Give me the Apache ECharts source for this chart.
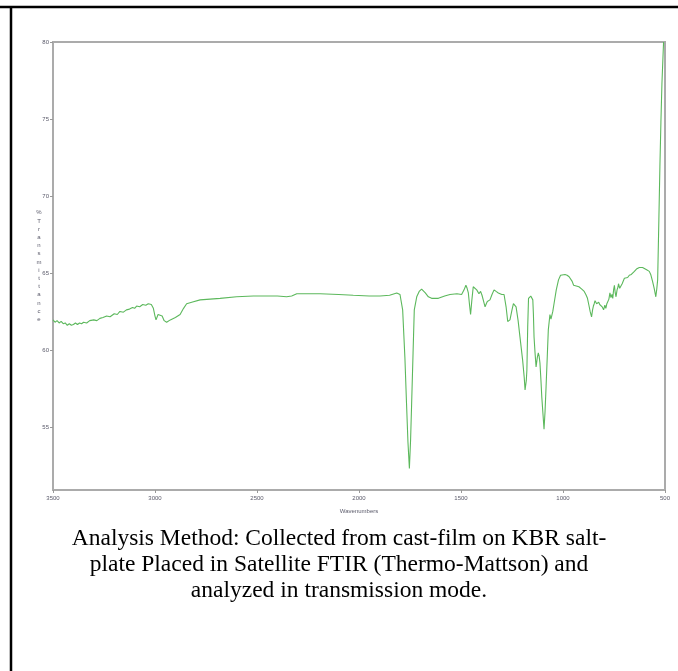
<!DOCTYPE html>
<html>
<head>
<meta charset="utf-8">
<script src="https://cdn.jsdelivr.net/npm/echarts@6/dist/echarts.min.js"></script>
<style>
html,body{margin:0;padding:0;background:#fff;}
#chart{width:678px;height:671px;}
</style>
</head>
<body>
<div id="chart"></div>
<script>
const wavenumbers = [3500,3490,3480,3470,3460,3450,3440,3430,3420,3410,3400,3390,3380,3370,3360,3350,3335,3320,3300,3285,3270,3255,3237,3220,3200,3185,3172,3155,3140,3125,3110,3100,3090,3075,3060,3045,3033,3018,3008,3000,2995,2985,2979,2965,2955,2943,2925,2900,2877,2860,2845,2820,2779,2730,2681,2600,2518,2450,2400,2355,2330,2305,2250,2191,2100,2028,1950,1897,1850,1815,1799,1786,1775,1767,1760,1753,1747,1742,1735,1729,1717,1705,1693,1675,1660,1644,1611,1580,1554,1520,1497,1485,1476,1470,1464,1458,1453,1447,1440,1432,1423,1412,1404,1397,1391,1382,1376,1371,1358,1348,1338,1328,1317,1300,1289,1279,1271,1260,1250,1243,1235,1230,1220,1211,1198,1190,1186,1180,1177,1173,1169,1158,1148,1145,1142,1137,1132,1126,1121,1117,1113,1108,1104,1098,1093,1088,1083,1077,1072,1064,1059,1055,1050,1044,1033,1022,1012,1005,990,980,970,961,955,948,935,922,908,896,888,880,873,867,860,855,851,847,843,839,835,830,825,820,814,808,801,795,790,785,781,775,770,765,760,756,752,748,744,740,735,730,728,722,716,710,705,699,690,683,675,665,650,640,634,626,618,610,601,590,577,570,561,553,545,540,536,530,525,520,515,510,507];
const transmittance = [61.95,61.8,61.9,61.75,61.85,61.7,61.75,61.6,61.7,61.6,61.65,61.75,61.65,61.75,61.7,61.8,61.75,61.9,61.95,61.9,62.05,62.1,62.2,62.15,62.35,62.3,62.5,62.45,62.6,62.65,62.75,62.7,62.85,62.8,62.95,62.9,63.0,62.95,62.7,62.2,61.95,62.3,62.4,62.2,61.9,61.8,61.95,62.1,62.3,62.7,63.0,63.1,63.25,63.3,63.35,63.45,63.5,63.5,63.5,63.45,63.5,63.65,63.65,63.65,63.6,63.55,63.5,63.5,63.55,63.7,63.6,62.6,59.5,56.5,54.0,52.3,54.2,56.5,59.8,62.6,63.45,63.8,63.95,63.7,63.45,63.35,63.35,63.5,63.6,63.65,63.6,63.9,64.2,64.0,63.7,62.9,62.3,63.2,64.1,64.0,63.9,63.65,63.8,63.55,63.25,62.8,63.0,63.15,63.25,63.6,63.9,63.8,63.7,63.6,63.6,62.8,61.85,61.95,62.6,63.0,62.95,62.8,61.9,60.85,59.35,58.2,57.4,58.0,58.7,61.5,63.35,63.5,63.25,62.3,60.85,59.8,58.9,59.5,59.8,59.6,59.15,58.0,56.95,55.8,54.85,56.0,57.6,59.6,61.3,62.3,62.0,61.95,62.5,63.0,63.9,64.55,64.85,64.95,64.9,64.85,64.75,64.65,64.45,64.2,64.15,64.1,63.95,63.8,63.6,63.35,62.9,62.5,62.15,62.6,62.85,63.0,63.2,63.3,63.0,62.9,63.1,62.95,63.0,62.8,62.6,62.9,62.7,63.0,62.9,63.3,63.7,63.4,63.6,63.35,63.9,64.2,63.7,63.45,63.9,64.1,64.3,64.0,64.0,64.3,64.4,64.65,64.6,64.7,64.85,64.9,65.1,65.25,65.2,65.35,65.4,65.35,65.3,65.2,65.1,64.9,64.45,64.0,63.45,64.0,64.55,68.5,71.9,74.8,77.3,79.0,80.0];
const xTicks = [3500,3000,2500,2000,1500,1000,500];
const yTicks = [55,60,65,70,75,80];
const yAxisTitle = ['%','T','r','a','n','s','m','i','t','t','a','n','c','e'];
const xAxisTitle = 'Wavenumbers';
const captionLines = [
  'Analysis Method: Collected from cast-film on KBR salt-',
  'plate Placed in Satellite FTIR (Thermo-Mattson) and',
  'analyzed in transmission mode.'
];

const chart = echarts.init(document.getElementById('chart'), null, {renderer:'canvas'});
const points = wavenumbers.map((w,i)=>[w, transmittance[i]]);
const labelStyle = {color:'#5a5a6a', fontSize:6, fontFamily:'Arial, "Liberation Sans", sans-serif'};

chart.setOption({
  animation:false,
  backgroundColor:'#ffffff',
  grid:{left:53, right:13, top:42, bottom:181, show:true, borderColor:'#ababab', borderWidth:2, backgroundColor:'transparent'},
  xAxis:{
    type:'value', inverse:true, min:500, max:3500, interval:500,
    name:xAxisTitle, nameLocation:'middle', nameGap:18, nameMoveOverlap:false,
    nameTextStyle:labelStyle,
    axisLine:{show:true, lineStyle:{color:'#ababab', width:2}},
    axisTick:{show:true, length:3, lineStyle:{color:'#999'}, customValues:xTicks},
    axisLabel:{show:true, margin:5, ...labelStyle, customValues:xTicks, formatter:v=>String(v)},
    splitLine:{show:false}
  },
  yAxis:{
    type:'value', min:50.9, max:80,
    name:yAxisTitle.join('\n'), nameLocation:'middle', nameRotate:0, nameGap:14, nameMoveOverlap:false,
    nameTextStyle:{...labelStyle, lineHeight:8.2, align:'center', verticalAlign:'middle'},
    axisLine:{show:true, lineStyle:{color:'#ababab', width:2}},
    axisTick:{show:true, length:3, lineStyle:{color:'#999'}, customValues:yTicks},
    axisLabel:{show:true, margin:4, ...labelStyle, customValues:yTicks, formatter:v=>String(v)},
    splitLine:{show:false}
  },
  series:[{
    type:'line', data:points, showSymbol:false, symbol:'none',
    lineStyle:{color:'#5cb85c', width:1.1}, clip:true
  }],
  graphic:[
    {type:'line', shape:{x1:0,y1:7,x2:678,y2:7}, style:{stroke:'#000', lineWidth:2.5}},
    {type:'line', shape:{x1:11,y1:7,x2:11,y2:671}, style:{stroke:'#000', lineWidth:2.5}},
    ...captionLines.map((t,i)=>({
      type:'text', left:'center', top:527 + i*26,
      style:{text:t, fill:'#000', font:'23.5px "Liberation Serif", "Times New Roman", serif', textAlign:'center'}
    }))
  ]
});
</script>
</body>
</html>
